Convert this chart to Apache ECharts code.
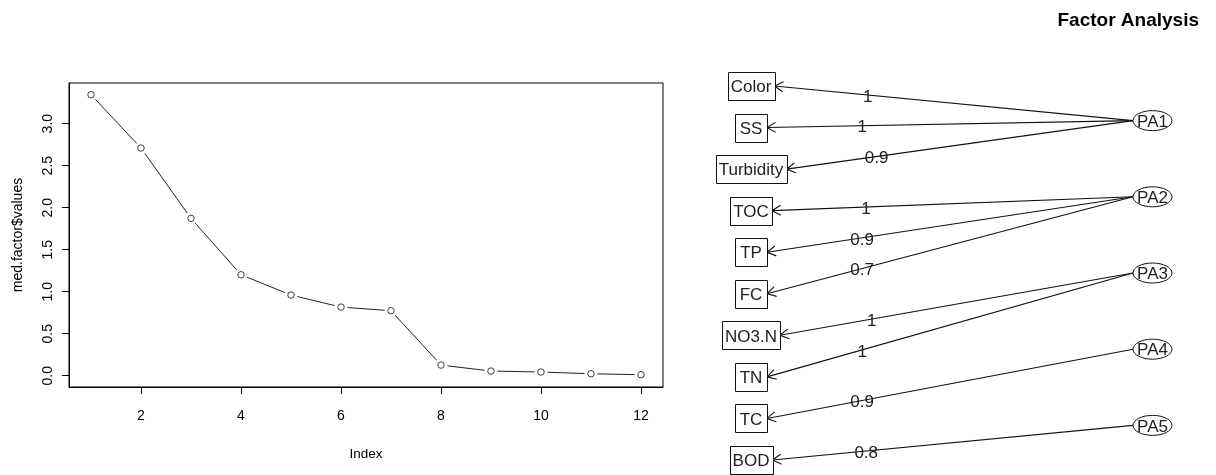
<!DOCTYPE html>
<html>
<head>
<meta charset="utf-8">
<script src="https://cdn.jsdelivr.net/npm/echarts@6/dist/echarts.min.js"></script>
<style>
  html, body { margin: 0; padding: 0; background: #fff; }
  #chart { width: 1216px; height: 475px; }
</style>
</head>
<body>
<div id="chart"></div>
<script>
// ---- Scree plot data ----
const screeIndex = [1, 2, 3, 4, 5, 6, 7, 8, 9, 10, 11, 12];
const screeValues = [3.345, 2.710, 1.873, 1.202, 0.960, 0.817, 0.774, 0.127, 0.056, 0.044, 0.024, 0.012];
const xTicks = [2, 4, 6, 8, 10, 12];
const yTicks = [0, 0.5, 1.0, 1.5, 2.0, 2.5, 3.0];

// ---- Factor diagram data ----
const variables = ['Color', 'SS', 'Turbidity', 'TOC', 'TP', 'FC', 'NO3.N', 'TN', 'TC', 'BOD'];
const factors = ['PA1', 'PA2', 'PA3', 'PA4', 'PA5'];
const loadingFactor = ['PA1', 'PA1', 'PA1', 'PA2', 'PA2', 'PA2', 'PA3', 'PA3', 'PA4', 'PA5'];
const loadingValue = [1, 1, 0.9, 1, 0.9, 0.7, 1, 1, 0.9, 0.8];

const FONT = '"Liberation Sans", Arial, sans-serif';
const DFS = 17;
const nv = variables.length, nf = factors.length;
const fScale = (nv + 1) / (nf + 1);
const varY = variables.map((v, i) => nv - i);
const facY = factors.map((f, j) => (nf - j) * fScale);

const ctx = document.createElement('canvas').getContext('2d');
ctx.font = DFS + 'px ' + FONT;
function boxWidth(t) { return Math.max(ctx.measureText(t).width + 6, 32); }
const BOX_H = 28, RX = 19.5, RY = 10;

const screeData = screeIndex.map((x, i) => [x, screeValues[i]]);
const boxData = variables.map((v, i) => [0, varY[i], v]);
const facData = factors.map((f, j) => [1, facY[j], f]);
const edgeData = variables.map((v, i) => {
  const j = factors.indexOf(loadingFactor[i]);
  return [0, varY[i], 1, facY[j], loadingValue[i], v];
});

const chart = echarts.init(document.getElementById('chart'), null, { renderer: 'canvas' });
chart.setOption({
  animation: false,
  backgroundColor: '#fff',
  title: {
    text: 'Factor Analysis',
    right: 12, top: 6,
    textStyle: { fontFamily: FONT, fontWeight: 'bold', fontSize: 19, color: '#000' }
  },
  grid: [
    { left: 69, top: 83, width: 594, height: 304, show: true, borderColor: '#000', borderWidth: 1, backgroundColor: 'transparent' },
    { left: 751, top: 86, width: 401.5, height: 374, show: false }
  ],
  xAxis: [
    {
      type: 'value', gridIndex: 0, min: 0.56, max: 12.44,
      name: 'Index', nameLocation: 'middle', nameGap: 60,
      nameTextStyle: { fontFamily: FONT, fontSize: 13.5, color: '#000' },
      axisLine: { show: true, onZero: false, lineStyle: { color: '#000' } },
      axisTick: { show: true, inside: false, length: 7, customValues: xTicks, lineStyle: { color: '#000' } },
      axisLabel: { customValues: xTicks, margin: 22, fontFamily: FONT, fontSize: 14, color: '#000' },
      splitLine: { show: false }
    },
    { type: 'value', gridIndex: 1, min: 0, max: 1, show: false }
  ],
  yAxis: [
    {
      type: 'value', gridIndex: 0, min: -0.134, max: 3.484,
      name: 'med.factor$values', nameLocation: 'middle', nameGap: 44, nameRotate: 90,
      nameTextStyle: { fontFamily: FONT, fontSize: 14, color: '#000' },
      axisLine: { show: true, onZero: false, lineStyle: { color: '#000' } },
      axisTick: { show: true, inside: false, length: 7, customValues: yTicks, lineStyle: { color: '#000' } },
      axisLabel: { customValues: yTicks, rotate: 90, margin: 14, fontFamily: FONT, fontSize: 14, color: '#000',
                   formatter: v => v.toFixed(1) },
      splitLine: { show: false }
    },
    { type: 'value', gridIndex: 1, min: 1, max: 10, show: false }
  ],
  series: [
    {
      type: 'line', xAxisIndex: 0, yAxisIndex: 0, data: screeData,
      symbol: 'circle', symbolSize: 13,
      itemStyle: { color: '#fff', borderWidth: 0 },
      lineStyle: { color: '#222', width: 1 },
      z: 2, silent: true
    },
    {
      type: 'scatter', xAxisIndex: 0, yAxisIndex: 0, data: screeData,
      symbol: 'circle', symbolSize: 6.5,
      itemStyle: { color: '#fff', borderColor: '#111', borderWidth: 1 },
      z: 3, silent: true
    },
    {
      type: 'custom', xAxisIndex: 1, yAxisIndex: 1, data: edgeData,
      dimensions: ['x0', 'y0', 'x1', 'y1', 'val', 'name'],
      encode: { x: [0, 2], y: [1, 3] },
      clip: false, silent: true, z: 3,
      renderItem: function (params, api) {
        const p0 = api.coord([api.value(0), api.value(1)]);
        const p1 = api.coord([api.value(2), api.value(3)]);
        const name = variables[params.dataIndex];
        const tip = [p0[0] + Math.round(boxWidth(name)) / 2, p0[1]];
        const start = [p1[0] - RX, p1[1]];
        const ang = Math.atan2(start[1] - tip[1], start[0] - tip[0]);
        const L = 10, A = Math.PI / 6;
        const a1 = [tip[0] + L * Math.cos(ang + A), tip[1] + L * Math.sin(ang + A)];
        const a2 = [tip[0] + L * Math.cos(ang - A), tip[1] + L * Math.sin(ang - A)];
        const f = 0.26;
        const lp = [tip[0] + f * (start[0] - tip[0]), tip[1] + f * (start[1] - tip[1])];
        const val = loadingValue[params.dataIndex];
        return {
          type: 'group',
          children: [
            { type: 'line', shape: { x1: start[0], y1: start[1], x2: tip[0], y2: tip[1] },
              style: { stroke: '#111', lineWidth: 1.1 } },
            { type: 'polyline', shape: { points: [a1, tip, a2] },
              style: { stroke: '#111', lineWidth: 1.1, fill: null } },
            { type: 'text', x: lp[0], y: lp[1] + 2,
              style: { text: String(val), font: DFS + 'px ' + FONT, fill: '#222', align: 'center', verticalAlign: 'middle' } }
          ]
        };
      }
    },
    {
      type: 'custom', xAxisIndex: 1, yAxisIndex: 1, data: boxData,
      dimensions: ['x', 'y', 'name'],
      encode: { x: 0, y: 1 },
      clip: false, silent: true, z: 4,
      renderItem: function (params, api) {
        const p = api.coord([api.value(0), api.value(1)]);
        const name = variables[params.dataIndex];
        const w = Math.round(boxWidth(name));
        const x = Math.round(p[0] - w / 2) + 0.5;
        const y = Math.round(p[1] - BOX_H / 2) + 0.5;
        return {
          type: 'group',
          children: [
            { type: 'rect', shape: { x: x, y: y, width: w, height: BOX_H },
              style: { fill: '#fff', stroke: '#111', lineWidth: 1 } },
            { type: 'text', x: p[0], y: p[1] + 1.5,
              style: { text: name, font: DFS + 'px ' + FONT, fill: '#222', align: 'center', verticalAlign: 'middle' } }
          ]
        };
      }
    },
    {
      type: 'custom', xAxisIndex: 1, yAxisIndex: 1, data: facData,
      dimensions: ['x', 'y', 'name'],
      encode: { x: 0, y: 1 },
      clip: false, silent: true, z: 4,
      renderItem: function (params, api) {
        const p = api.coord([api.value(0), api.value(1)]);
        const name = factors[params.dataIndex];
        return {
          type: 'group',
          children: [
            { type: 'ellipse', shape: { cx: p[0], cy: p[1], rx: RX, ry: RY },
              style: { fill: null, stroke: '#111', lineWidth: 1 } },
            { type: 'text', x: p[0], y: p[1] + 1.5,
              style: { text: name, font: DFS + 'px ' + FONT, fill: '#222', align: 'center', verticalAlign: 'middle' } }
          ]
        };
      }
    }
  ]
});
</script>
</body>
</html>
